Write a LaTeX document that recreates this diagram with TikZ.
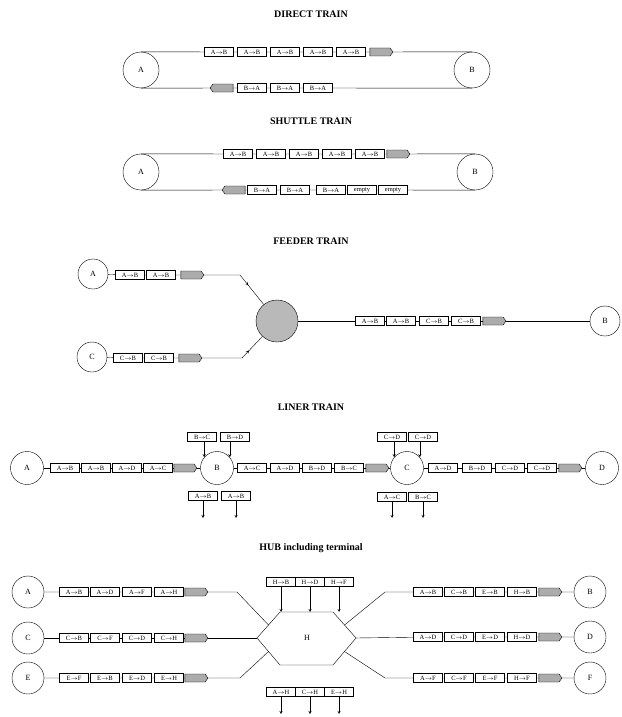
\documentclass[tikz,border=0pt]{standalone}
\usepackage{fontspec}
\setmainfont{Liberation Serif}
\usetikzlibrary{shapes.symbols,decorations.markings}
\tikzset{station/.style={draw, circle, minimum size=32pt, inner sep=0pt, font=\fontsize{8}{8}\selectfont},
  bigstation/.style={station, minimum size=36pt},
  grayhub/.style={draw, circle, fill=gray!55, minimum size=42pt},
  wagon/.style={draw, fill=white, minimum width=29pt, minimum height=9pt, inner sep=0pt, font=\fontsize{6.5}{6.5}\selectfont},
  loco/.style={draw, fill=gray!65, signal, signal to=east, signal pointer angle=110, minimum width=23pt, minimum height=8pt, inner sep=0pt},
  locoback/.style={loco, signal to=west},
  header/.style={font=\bfseries\fontsize{10}{10}\selectfont},
  drop/.style={-stealth},
  midarrow/.style={postaction={decorate}, decoration={markings, mark=at position 0.35 with {\arrow{stealth}}}}}
\begin{document}
\begin{tikzpicture}[x=1pt, y=-1pt]
\useasboundingbox (0,0) rectangle (621,717);

% direct train
\node[header] (tD) at (311,14) {DIRECT TRAIN};
\node[bigstation] (dA) at (141,70) {A};
\node[bigstation] (dB) at (472,70) {B};
\node[wagon] (d1) at (219,52) {A$\to$B};
\node[wagon] (d2) at (252,52) {A$\to$B};
\node[wagon] (d3) at (285,52) {A$\to$B};
\node[wagon] (d4) at (318,52) {A$\to$B};
\node[wagon] (d5) at (351,52) {A$\to$B};
\node[loco] (dL1) at (380,52) {};
\node[locoback] (dL2) at (223,88) {};
\node[wagon] (d6) at (252,88) {B$\to$A};
\node[wagon] (d7) at (285,88) {B$\to$A};
\node[wagon] (d8) at (318,88) {B$\to$A};
\draw (dA.north) -- (d1) -- (d2) -- (d3) -- (d4) -- (d5) -- (dL1) -- (dB.north);
\draw (dA.south) -- (dL2) -- (d6) -- (d7) -- (d8) -- (dB.south);

% shuttle train
\node[header] (tS) at (311,121) {SHUTTLE TRAIN};
\node[bigstation] (sA) at (141,172) {A};
\node[bigstation] (sB) at (475,172) {B};
\node[wagon] (s1) at (238,154) {A$\to$B};
\node[wagon] (s2) at (271,154) {A$\to$B};
\node[wagon] (s3) at (304,154) {A$\to$B};
\node[wagon] (s4) at (337,154) {A$\to$B};
\node[wagon] (s5) at (370,154) {A$\to$B};
\node[loco] (sL1) at (397,154) {};
\node[locoback] (sL2) at (235,190) {};
\node[wagon] (s6) at (262,190) {B$\to$A};
\node[wagon] (s7) at (295,190) {B$\to$A};
\node[wagon] (s8) at (331,190) {B$\to$A};
\node[wagon] (s9) at (362,190) {empty};
\node[wagon] (s10) at (393,190) {empty};
\draw (sA.north) -- (s1) -- (s2) -- (s3) -- (s4) -- (s5) -- (sL1) -- (sB.north);
\draw (sA.south) -- (sL2) -- (s6) -- (s7) -- (s8) -- (s9) -- (s10) -- (sB.south);

% feeder train
\node[header] (tF) at (311,241) {FEEDER TRAIN};
\node[station, minimum size=30pt] (fA) at (93,274) {A};
\node[station, minimum size=30pt] (fC) at (92,357) {C};
\node[station, minimum size=30pt] (fB) at (605,321) {B};
\node[grayhub] (fH) at (277,321) {};
\node[wagon] (f1) at (130,275) {A$\to$B};
\node[wagon] (f2) at (161,275) {A$\to$B};
\node[loco] (fL1) at (191,275) {};
\node[wagon] (f3) at (128,358) {C$\to$B};
\node[wagon] (f4) at (159,358) {C$\to$B};
\node[loco] (fL2) at (189,358) {};
\node[wagon] (f5) at (370,321) {A$\to$B};
\node[wagon] (f6) at (401,321) {A$\to$B};
\node[wagon] (f7) at (434,321) {C$\to$B};
\node[wagon] (f8) at (466,321) {C$\to$B};
\node[loco] (fL3) at (493,321) {};
\coordinate (fBendA) at (240,275);
\coordinate (fBendC) at (242,358);
\draw (fA) -- (f1) -- (f2) -- (fL1) -- (fBendA);
\draw[midarrow] (fBendA) -- (fH);
\draw (fC) -- (f3) -- (f4) -- (fL2) -- (fBendC);
\draw[midarrow] (fBendC) -- (fH);
\draw (fH) -- (f5) -- (f6) -- (f7) -- (f8) -- (fL3) -- (fB);

% liner train
\node[header] (tL) at (311,407) {LINER TRAIN};
\node[station, minimum size=33pt] (lA) at (27,468) {A};
\node[station, minimum size=33pt] (lB) at (217,468) {B};
\node[station, minimum size=33pt] (lC) at (407,468) {C};
\node[station, minimum size=33pt] (lD) at (602,468) {D};
\node[wagon] (l1) at (65,468) {A$\to$B};
\node[wagon] (l2) at (96,468) {A$\to$B};
\node[wagon] (l3) at (127,468) {A$\to$D};
\node[wagon] (l4) at (158,468) {A$\to$C};
\node[loco] (lL1) at (184,468) {};
\node[wagon] (l5) at (252,468) {A$\to$C};
\node[wagon] (l6) at (285,468) {A$\to$D};
\node[wagon] (l7) at (317,468) {B$\to$D};
\node[wagon] (l8) at (349,468) {B$\to$C};
\node[loco] (lL2) at (376,468) {};
\node[wagon] (l9) at (443,468) {A$\to$D};
\node[wagon] (l10) at (477,468) {B$\to$D};
\node[wagon] (l11) at (510,468) {C$\to$D};
\node[wagon] (l12) at (542,468) {C$\to$D};
\node[loco] (lL3) at (569,468) {};
\draw (lA) -- (l1) -- (l2) -- (l3) -- (l4) -- (lL1) -- (lB) -- (l5) -- (l6) -- (l7) -- (l8) -- (lL2) -- (lC)
  -- (l9) -- (l10) -- (l11) -- (l12) -- (lL3) -- (lD);
\node[wagon] (lBin1) at (202,437) {B$\to$C};
\node[wagon] (lBin2) at (235,437) {B$\to$D};
\node[wagon] (lBout1) at (203,496) {A$\to$B};
\node[wagon] (lBout2) at (236,496) {A$\to$B};
\node[wagon] (lCin1) at (392,437) {C$\to$D};
\node[wagon] (lCin2) at (423,437) {C$\to$D};
\node[wagon] (lCout1) at (392,497) {A$\to$C};
\node[wagon] (lCout2) at (423,497) {B$\to$C};
\coordinate (lBend1) at (203,518);
\coordinate (lBend2) at (236,518);
\coordinate (lCend1) at (392,518);
\coordinate (lCend2) at (423,518);
\draw[drop] (lB.140 |- lBin1.south) -- (lB.140);
\draw[drop] (lB.40 |- lBin2.south) -- (lB.40);
\draw[drop] (lC.140 |- lCin1.south) -- (lC.140);
\draw[drop] (lC.40 |- lCin2.south) -- (lC.40);
\draw[drop] (lBout1) -- (lBend1);
\draw[drop] (lBout2) -- (lBend2);
\draw[drop] (lCout1) -- (lCend1);
\draw[drop] (lCout2) -- (lCend2);

% hub including terminal
\node[header] (tH) at (311,548) {HUB including terminal};
\node[station] (hA) at (28,592) {A};
\node[station] (hC) at (28,638) {C};
\node[station] (hE) at (28,678) {E};
\node[station] (hB) at (590,592) {B};
\node[station] (hD) at (590,637) {D};
\node[station] (hF) at (590,678) {F};
\coordinate (hexL) at (257,638);
\coordinate (hexTL) at (280,612);
\coordinate (hexTR) at (333,612);
\coordinate (hexR) at (356,638);
\coordinate (hexBR) at (333,665);
\coordinate (hexBL) at (280,665);
\coordinate (hexUL) at (268.5,625);
\coordinate (hexLL) at (268.5,651.5);
\coordinate (hexUR) at (344.5,625);
\coordinate (hexLR) at (344.5,651.5);
\draw (hexL) -- (hexTL) -- (hexTR) -- (hexR) -- (hexBR) -- (hexBL) -- cycle;
\node (hH) at (307,638) {\fontsize{8}{8}\selectfont H};
% left trains
\node[wagon] (h1) at (74,592) {A$\to$B};
\node[wagon] (h2) at (105,592) {A$\to$D};
\node[wagon] (h3) at (137,592) {A$\to$F};
\node[wagon] (h4) at (169,592) {A$\to$H};
\node[loco] (hL1) at (195,592) {};
\node[wagon] (h5) at (74,638) {C$\to$B};
\node[wagon] (h6) at (105,638) {C$\to$F};
\node[wagon] (h7) at (137,638) {C$\to$D};
\node[wagon] (h8) at (169,638) {C$\to$H};
\node[loco] (hL2) at (195,638) {};
\node[wagon] (h9) at (74,678) {E$\to$F};
\node[wagon] (h10) at (105,678) {E$\to$B};
\node[wagon] (h11) at (137,678) {E$\to$D};
\node[wagon] (h12) at (169,678) {E$\to$H};
\node[loco] (hL3) at (195,678) {};
% right trains
\node[wagon] (h13) at (428,592) {A$\to$B};
\node[wagon] (h14) at (459,592) {C$\to$B};
\node[wagon] (h15) at (490,592) {E$\to$B};
\node[wagon] (h16) at (522,592) {H$\to$B};
\node[loco] (hL4) at (549,592) {};
\node[wagon] (h17) at (428,637) {A$\to$D};
\node[wagon] (h18) at (459,637) {C$\to$D};
\node[wagon] (h19) at (490,637) {E$\to$D};
\node[wagon] (h20) at (522,637) {H$\to$D};
\node[loco] (hL5) at (549,637) {};
\node[wagon] (h21) at (428,678) {A$\to$F};
\node[wagon] (h22) at (459,678) {C$\to$F};
\node[wagon] (h23) at (490,678) {E$\to$F};
\node[wagon] (h24) at (522,678) {H$\to$F};
\node[loco] (hL6) at (549,678) {};
\coordinate (hBendA) at (237,592);
\coordinate (hBendE) at (240,678);
\coordinate (hBendB) at (385,592);
\coordinate (hBendF) at (385,678);
\draw (hA) -- (h1) -- (h2) -- (h3) -- (h4) -- (hL1) -- (hBendA) -- (hexUL);
\draw (hC) -- (h5) -- (h6) -- (h7) -- (h8) -- (hL2) -- (hexL);
\draw (hE) -- (h9) -- (h10) -- (h11) -- (h12) -- (hL3) -- (hBendE) -- (hexLL);
\draw (hexUR) -- (hBendB) -- (h13) -- (h14) -- (h15) -- (h16) -- (hL4) -- (hB);
\draw (hexR) -- (h17) -- (h18) -- (h19) -- (h20) -- (hL5) -- (hD);
\draw (hexLR) -- (hBendF) -- (h21) -- (h22) -- (h23) -- (h24) -- (hL6) -- (hF);
% wagons in and out at the hub
\node[wagon] (hIn1) at (281,582) {H$\to$B};
\node[wagon] (hIn2) at (310,582) {H$\to$D};
\node[wagon] (hIn3) at (339,582) {H$\to$F};
\node[wagon] (hOut1) at (281,692) {A$\to$H};
\node[wagon] (hOut2) at (310,692) {C$\to$H};
\node[wagon] (hOut3) at (339,692) {E$\to$H};
\coordinate (hEnd1) at (281,714);
\coordinate (hEnd2) at (310,714);
\coordinate (hEnd3) at (339,714);
\draw[drop] (hIn1.south) -- (hIn1.south |- hexTL);
\draw[drop] (hIn2.south) -- (hIn2.south |- hexTL);
\draw[drop] (hIn3.south) -- (hIn3.south |- hexTL);
\draw[drop] (hOut1) -- (hEnd1);
\draw[drop] (hOut2) -- (hEnd2);
\draw[drop] (hOut3) -- (hEnd3);
\end{tikzpicture}
\end{document}
